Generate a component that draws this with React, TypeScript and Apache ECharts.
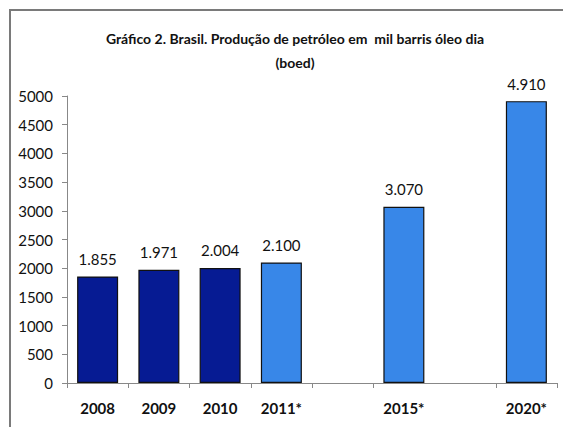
import React, { useEffect, useRef } from "react";
import * as echarts from "echarts";

const categories: string[] = ["2008", "2009", "2010", "2011*", "", "2015*", "", "2020*"];
const values: (number | null)[] = [1855, 1971, 2004, 2100, null, 3070, null, 4910];
const projected: boolean[] = [false, false, false, true, false, true, false, true];
const yTicks: number[] = [0, 500, 1000, 1500, 2000, 2500, 3000, 3500, 4000, 4500, 5000];
const titleText = "Gráfico 2. Brasil. Produção de petróleo em  mil barris óleo dia\n(boed)";

const DARK = "#061b93";
const LIGHT = "#3887e8";
const FONT = "Lato, sans-serif";

function fmt(v: number): string {
  const th = Math.floor(v / 1000);
  const rest = String(v % 1000).padStart(3, "0");
  return th > 0 ? `${th}.${rest}` : String(v);
}

export default function App() {
  const ref = useRef<HTMLDivElement>(null);
  useEffect(() => {
    if (!ref.current) return;
    const chart = echarts.init(ref.current, null, { renderer: "svg" });
    const data = values.map((v, i) =>
      v == null
        ? null
        : {
            value: v,
            itemStyle: { color: projected[i] ? LIGHT : DARK },
          }
    );
    chart.setOption({
      animation: false,
      backgroundColor: "#ffffff",
      title: {
        text: titleText,
        left: 290,
        textAlign: "center",
        top: 21,
        textStyle: {
          fontFamily: FONT,
          fontWeight: "bold",
          fontSize: 14,
          lineHeight: 24,
          color: "#111",
        },
      },
      graphic: [
        { type: "line", shape: { x1: 9, y1: 10, x2: 563, y2: 10 }, style: { stroke: "#7a7a7a", lineWidth: 2 } },
        { type: "line", shape: { x1: 10, y1: 9, x2: 10, y2: 427 }, style: { stroke: "#7a7a7a", lineWidth: 2 } },
      ],
      grid: { left: 67, right: 6, top: 96, bottom: 44, containLabel: false },
      xAxis: {
        type: "category",
        data: categories,
        axisLine: { lineStyle: { color: "#888", width: 1 } },
        axisTick: {
          show: true,
          length: 5,
          lineStyle: { color: "#888" },
          interval: (index: number) => index !== 6,
        },
        axisLabel: {
          interval: 0,
          margin: 17,
          fontFamily: FONT,
          fontSize: 15,
          fontWeight: "bold",
          color: "#111",
        },
      },
      yAxis: {
        type: "value",
        min: yTicks[0],
        max: yTicks[yTicks.length - 1],
        interval: 500,
        splitLine: { show: false },
        axisLine: { show: true, lineStyle: { color: "#888", width: 1 } },
        axisTick: { show: true, length: 5, lineStyle: { color: "#888" } },
        axisLabel: {
          margin: 14,
          fontFamily: FONT,
          fontSize: 15,
          color: "#111",
          formatter: (v: number) => String(v),
        },
      },
      series: [
        {
          type: "bar",
          data,
          barWidth: 41,
          itemStyle: { borderColor: "#111", borderWidth: 1.2 },
          label: {
            show: true,
            position: "top",
            distance: 10,
            fontFamily: FONT,
            fontSize: 15,
            color: "#111",
            formatter: (p: any) => fmt(p.value as number),
          },
        },
      ],
    });
    return () => chart.dispose();
  }, []);
  return (
    <div
      ref={ref}
      style={{ position: "fixed", left: 0, top: 0, width: 563, height: 427 }}
    />
  );
}
